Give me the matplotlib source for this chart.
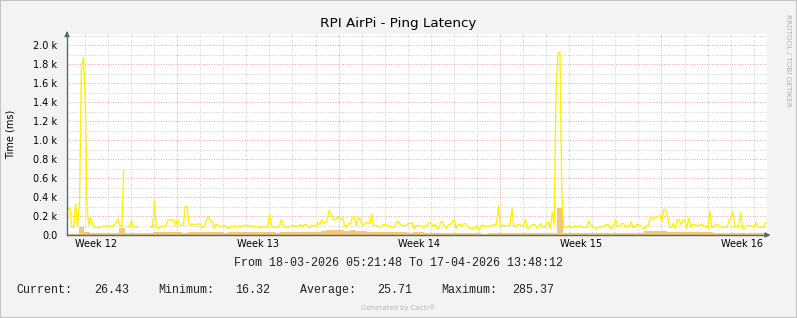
import datetime
import numpy as np
import pandas as pd
import matplotlib
matplotlib.use('Agg')
import matplotlib.pyplot as plt
from matplotlib.patches import Rectangle

nan = np.nan

start = pd.Timestamp('2026-03-18 05:21:48')
end = pd.Timestamp('2026-04-17 13:48:12')

# max ping (ms), one value every 2 hours from start
ping_max = [
    280, 280, 80, 80, 330, 90, 340, 1740, 1870, 1460,
    250, 100, 180, 90, 80, 80, 75, 80, 85, 100,
    95, 85, 95, 90, 100, 130, 170, 100, 80, 680,
    nan, 90, 90, 150, 90, 80, 80, nan, nan, nan,
    nan, nan, nan, 80, 80, 360, 80, 70, 80, 90,
    90, 100, 160, 155, 160, 160, 100, 160, 110, 100,
    100, 300, 300, 110, 115, 110, 115, 110, 120, 105,
    80, 85, 150, 190, 150, 140, 70, 110, 105, 90,
    90, 100, 100, 75, 70, 95, 85, 100, 80, 95,
    85, 100, 100, 105, 95, 90, 95, 90, 85, 90,
    70, 80, 85, 80, 90, 220, 90, 80, 85, 80,
    90, 160, 110, 80, 85, 80, 100, 100, 95, 90,
    95, 110, 90, 110, 110, 80, 80, 100, 100, 90,
    130, 110, 160, 120, 120, 180, 260, 220, 160, 160,
    180, 180, 160, 180, 90, 90, 120, 120, 190, 190,
    100, 180, 170, 110, 110, 130, 130, 120, 220, 100,
    100, 100, 80, 80, 110, 110, 110, 90, 90, 80,
    80, 140, 140, 110, 100, 100, 100, 120, 120, 130,
    60, 100, 100, 100, 100, 70, 100, 100, 130, 130,
    90, 110, 70, 70, 140, 140, 90, 70, 110, 110,
    140, 160, 70, 110, 110, 90, 120, 120, 90, 70,
    70, 70, 70, 100, 50, 100, 100, 90, 90, 90,
    100, 100, 110, 110, 310, 90, 100, 100, 100, 100,
    100, 280, 90, 90, 110, 110, 100, 100, 160, 70,
    70, 100, 110, 110, 70, 90, 120, 80, 80, 130,
    130, 70, 240, 110, 1560, 1920, 1920, 410, 80, 80,
    90, 90, 80, 80, 100, 80, 100, 80, 80, 80,
    80, 150, 100, 100, 70, 70, 80, 80, 90, 90,
    110, 110, 70, 70, 100, 160, 90, 90, 120, 120,
    90, 90, 90, 140, 80, 80, 110, 110, 100, 70,
    70, 100, 100, 180, 180, 170, 180, 200, 200, 140,
    270, 270, 200, 80, 80, 120, 70, 160, 160, 110,
    160, 160, 70, 180, 80, 110, 110, 100, 100, 110,
    110, 90, 90, 70, 250, 80, 80, 110, 110, 90,
    90, 80, 80, 80, 160, 180, 250, 80, 90, 90,
    240, 70, 70, 100, 100, 100, 90, 90, 130, 80,
    80, 80, 80, 130, 130,
]

# average ping (ms), one value every 6 hours from start
ping_avg = [
    15, 15, 85, 30, 20, 20, 20, 20, 20, 70,
    25, 25, 25, 25, 25, 30, 30, 35, 30, 30,
    25, 30, 30, 35, 30, 30, 30, 25, 30, 30,
    30, 35, 30, 30, 30, 30, 25, 30, 30, 30,
    30, 30, 30, 35, 40, 50, 55, 50, 45, 50,
    45, 40, 30, 30, 35, 30, 30, 30, 30, 25,
    30, 30, 20, 20, 20, 20, 25, 20, 20, 20,
    20, 20, 15, 20, 20, 20, 20, 20, 25, 20,
    20, 20, 20, 20, 20, 285, 20, 20, 20, 20,
    20, 20, 20, 20, 20, 25, 20, 20, 20, 25,
    40, 40, 40, 40, 30, 30, 35, 30, 30, 30,
    30, 30, 25, 25, 25, 25, 25, 25, 25, 25,
    25, 25,
]

week_numbers = [12, 13, 14, 15, 16]
ytick_vals = [0, 200, 400, 600, 800, 1000, 1200, 1400, 1600, 1800, 2000]
ytick_labels = ['0.0', '0.2 k', '0.4 k', '0.6 k', '0.8 k', '1.0 k',
                '1.2 k', '1.4 k', '1.6 k', '1.8 k', '2.0 k']
stat_names = ['Current:', 'Minimum:', 'Average:', 'Maximum:']
stat_values = ['26.43', '16.32', '25.71', '285.37']

# line points sit in the middle of each 2h bucket
t_max = pd.date_range(start + pd.Timedelta(hours=1), periods=len(ping_max), freq='2h')
t_avg = pd.date_range(start, periods=len(ping_avg), freq='6h')
x_avg = np.append(t_avg.values, end.to_datetime64())
y_avg = np.append(ping_avg, ping_avg[-1])

W, H = 797, 318
fig = plt.figure(figsize=(W / 100, H / 100), dpi=100, facecolor='#f3f3f3')
ax = fig.add_axes([67 / W, (H - 235) / H, (767 - 67) / W, (235 - 34) / H])
ax.set_facecolor('white')

ax.fill_between(x_avg, y_avg, step='post', color='#f5c878', lw=0, zorder=2)
ax.plot(t_max, ping_max, color='#fff200', lw=1.0, zorder=3)

ax.set_xlim(start, end)
ax.set_ylim(0, 2116)

days = pd.date_range('2026-03-19', '2026-04-17', freq='D')
mondays = days[days.weekday == 0]
ax.set_xticks(mondays)
ax.set_xticks(days[days.weekday != 0], minor=True)
ax.set_yticks(ytick_vals, ytick_labels)
ax.set_yticks(np.arange(100, 2200, 200), minor=True)
ax.set_xticklabels([])
ax.tick_params(which='both', length=0)
ax.tick_params(axis='y', labelsize=7, pad=7)

red = '#eaa0a0'
grey = '#cccccc'
dots = (0, (1, 1.6))
ax.grid(which='major', color=red, lw=0.7, ls=dots, zorder=1)
ax.grid(which='minor', color=grey, lw=0.7, ls=dots, zorder=1)
ax.set_axisbelow(True)

axis_col = '#4f6b6b'
for s in ['top', 'right']:
    ax.spines[s].set_visible(False)
for s in ['left', 'bottom']:
    ax.spines[s].set_color(axis_col)
    ax.spines[s].set_linewidth(1)
    ax.spines[s].set_zorder(5)

ax.annotate('', xy=(0, 1.028), xytext=(0, 0.99), xycoords='axes fraction',
            arrowprops=dict(arrowstyle='-|>', color=axis_col, lw=1, mutation_scale=7))
ax.annotate('', xy=(1.009, 0), xytext=(0.995, 0), xycoords='axes fraction',
            arrowprops=dict(arrowstyle='-|>', color=axis_col, lw=1, mutation_scale=7))

for wk in week_numbers:
    mid = datetime.datetime.fromisocalendar(2026, wk, 1) + datetime.timedelta(days=3.5)
    ax.text(mid, -0.045, f'Week {wk}', transform=ax.get_xaxis_transform(),
            ha='center', va='center', fontsize=7)

fig.text(398 / W, 1 - 27.5 / H, 'RPI AirPi - Ping Latency', ha='center',
         va='baseline', fontsize=9.7)
fig.text(11 / W, 1 - 134.5 / H, 'Time (ms)', rotation=90, ha='center',
         va='center', fontsize=7)
fig.text(788 / W, 1 - 60 / H, 'RRDTOOL / TOBI OETIKER', rotation=270,
         ha='center', va='center', fontsize=5.2, color='#b0b0b0')

mono = 'Liberation Mono'
fig.text(398 / W, 1 - 263 / H,
         'From 18-03-2026 05:21:48 To 17-04-2026 13:48:12',
         family=mono, fontsize=8.4, ha='center', va='center', color='#202020')
name_x = [16, 158, 300, 441]
value_x = [94, 235, 377, 512]
for nm, val, nx, vx in zip(stat_names, stat_values, name_x, value_x):
    fig.text(nx / W, 1 - 290 / H, nm, family=mono, fontsize=8.4, va='center',
             color='#202020')
    fig.text(vx / W, 1 - 290 / H, val, family=mono, fontsize=8.4, va='center',
             color='#202020')
fig.text(398 / W, 1 - 307.5 / H, 'Generated by Cacti®', ha='center',
         va='center', fontsize=5, color='#b8b8b8')

fig.add_artist(Rectangle((0, 0), 1, 1, transform=fig.transFigure, fill=False,
                         edgecolor='#c4c4c4', lw=1.5))

fig.savefig('out.png', dpi=100, facecolor=fig.get_facecolor())
